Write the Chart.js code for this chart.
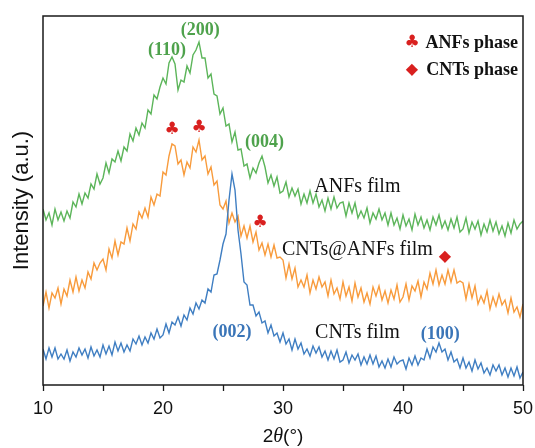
<!DOCTYPE html>
<html>
<head>
<meta charset="utf-8">
<title>XRD patterns</title>
<script src="https://cdn.jsdelivr.net/npm/chart.js@4.4.1/dist/chart.umd.min.js"></script>
<style>
    html, body { margin: 0; padding: 0; background: #ffffff; overflow: hidden; }
    #wrap { width: 535px; height: 448px; position: relative; }
    canvas { display: block; }
</style>
</head>
<body>
<div id="wrap"><canvas id="xrdChart"></canvas></div>
<script>
// 2θ sampling of the scans (degrees)
const angleStart = 10;
const angleStep = 0.25;

// ANFs film intensity (a.u.)
const anfsFilm = [
    176,165,172,160,176,165,173,164,174,167,183,178,191,181,192,187,201,196,211,201,
    207,222,212,226,223,234,224,238,234,251,244,257,250,262,257,275,271,290,286,298,
    307,301,322,328,321,295,305,303,319,312,330,335,343,327,327,307,311,291,289,271,
    277,259,261,243,253,235,236,219,221,207,217,212,222,229,218,202,210,199,208,192,
    194,203,188,197,189,196,181,191,182,194,182,191,178,185,174,187,176,188,177,182,
    183,169,182,172,182,167,174,167,177,162,172,166,176,165,172,160,172,160,167,156,
    170,159,166,155,171,160,168,157,165,155,168,160,170,157,164,155,166,157,168,153,
    156,167,152,163,156,164,150,161,153,165,154,163,151,159,149,162,152,165,156,161,
    164
];

// CNTs@ANFs film intensity (a.u.)
const cntsAnfsFilm = [
    79,93,77,92,87,97,81,96,89,105,93,108,94,105,97,113,106,122,115,122,
    126,115,136,127,144,130,143,141,157,144,161,156,173,167,177,168,188,180,191,189,
    213,210,229,241,239,221,225,210,223,217,238,233,245,225,229,211,218,200,204,180,
    176,184,162,172,163,169,149,159,147,159,143,153,135,142,130,141,128,140,127,128,
    125,107,121,106,117,98,105,98,110,92,105,96,108,98,103,89,105,91,97,86,
    103,89,98,84,102,88,97,83,92,81,98,89,99,85,94,82,95,86,100,83,
    88,101,85,99,94,104,88,103,96,112,101,115,100,110,101,115,103,115,102,104,
    102,86,101,87,99,81,89,82,94,76,88,79,91,80,85,72,87,73,78,68,
    81
];

// CNTs film intensity (a.u.)
const cntsFilm = [
    36,26,37,28,37,26,31,26,35,24,33,28,37,30,36,27,38,29,35,28,
    40,31,39,30,43,34,42,33,40,34,46,41,49,40,48,42,52,46,56,47,
    50,61,52,63,60,68,59,70,65,77,71,82,76,85,82,96,93,110,111,125,
    141,151,185,211,195,155,131,103,100,80,80,69,73,62,64,52,60,49,52,43,
    52,41,46,35,46,36,42,31,36,29,39,32,38,28,34,25,34,26,35,23,
    25,33,22,30,25,31,20,28,21,30,21,29,18,24,17,26,18,28,21,24,
    25,16,27,20,29,20,27,25,36,27,38,33,42,33,36,25,33,23,26,17,
    27,17,23,14,25,16,22,12,17,10,20,14,20,10,17,8,17,9,18,7,
    13
];

// x axis ticks, every 5 degrees with labels on the tens
const xTicks = [10, 15, 20, 25, 30, 35, 40, 45, 50];
const xTickLabels = ['10', '', '20', '', '30', '', '40', '', '50'];

const GREEN = '#5cb55a';
const ORANGE = '#f89b3c';
const BLUE = '#3f7ec2';
const RED = '#d9201f';

function toPoints(values) {
    return values.map((v, i) => ({ x: angleStart + i * angleStep, y: v }));
}

// Text and symbols placed on the plot (data coordinates)
const peakLabels = [
    { text: '(110)', x: 20.33, y: 335, color: '#4ea24c' },
    { text: '(200)', x: 23.1, y: 355, color: '#4ea24c' },
    { text: '(004)', x: 28.45, y: 243, color: '#4ea24c' },
    { text: '(002)', x: 25.75, y: 53, color: '#3a75b8' },
    { text: '(100)', x: 43.1, y: 51, color: '#3a75b8' }
];
const sampleLabels = [
    { text: 'ANFs film', x: 36.2, y: 198 },
    { text: 'CNTs@ANFs film', x: 36.2, y: 135 },
    { text: 'CNTs film', x: 36.2, y: 52 }
];
const phaseMarks = [
    { symbol: '♣', x: 20.75, y: 255 },
    { symbol: '♣', x: 23.0, y: 257 },
    { symbol: '♣', x: 28.1, y: 162 },
    { symbol: '◆', x: 43.5, y: 128 }
];

function symbolFont(symbol) {
    return (symbol === '♣' ? '17px' : '16px') + ' "DejaVu Sans", sans-serif';
}

const annotationPlugin = {
    id: 'xrdAnnotations',
    afterDraw(chart) {
        const { ctx, chartArea } = chart;
        const xs = chart.scales.x;
        const ys = chart.scales.y;
        ctx.save();

        // frame round the plot
        ctx.strokeStyle = '#1a1a1a';
        ctx.lineWidth = 1.5;
        ctx.strokeRect(chartArea.left, chartArea.top,
            chartArea.right - chartArea.left, chartArea.bottom - chartArea.top);

        ctx.textAlign = 'center';
        ctx.textBaseline = 'middle';

        ctx.font = 'bold 18px "Liberation Serif", "Times New Roman", serif';
        peakLabels.forEach(l => {
            ctx.fillStyle = l.color;
            ctx.fillText(l.text, xs.getPixelForValue(l.x), ys.getPixelForValue(l.y));
        });

        ctx.font = '20px "Liberation Serif", "Times New Roman", serif';
        ctx.fillStyle = '#111111';
        sampleLabels.forEach(l => {
            ctx.fillText(l.text, xs.getPixelForValue(l.x), ys.getPixelForValue(l.y));
        });

        ctx.fillStyle = RED;
        phaseMarks.forEach(m => {
            ctx.font = symbolFont(m.symbol);
            ctx.fillText(m.symbol, xs.getPixelForValue(m.x), ys.getPixelForValue(m.y));
        });

        // legend, top right
        const legendItems = [['♣', 'ANFs phase'], ['◆', 'CNTs phase']];
        legendItems.forEach((item, i) => {
            const y = chartArea.top + 27 + i * 27;
            ctx.textAlign = 'center';
            ctx.fillStyle = RED;
            ctx.font = symbolFont(item[0]);
            ctx.fillText(item[0], chartArea.right - 111, y);
            ctx.textAlign = 'right';
            ctx.fillStyle = '#111111';
            ctx.font = 'bold 18px "Liberation Serif", "Times New Roman", serif';
            ctx.fillText(item[1], chartArea.right - 5, y);
        });

        // x axis title: 2θ(°) with italic theta
        const parts = [
            ['2', '19px "Liberation Sans", Arial, sans-serif'],
            ['θ', 'italic 20px "Liberation Serif", "Times New Roman", serif'],
            ['(°)', '19px "Liberation Sans", Arial, sans-serif']
        ];
        let total = 0;
        parts.forEach(p => { ctx.font = p[1]; total += ctx.measureText(p[0]).width; });
        let x = (chartArea.left + chartArea.right) / 2 - total / 2;
        ctx.textAlign = 'left';
        ctx.fillStyle = '#111111';
        parts.forEach(p => {
            ctx.font = p[1];
            ctx.fillText(p[0], x, 437);
            x += ctx.measureText(p[0]).width;
        });

        ctx.restore();
    }
};

const lineStyle = { borderWidth: 1.4, pointRadius: 0, tension: 0, fill: false };

new Chart(document.getElementById('xrdChart'), {
    type: 'line',
    data: {
        datasets: [
            Object.assign({ label: 'CNTs film', data: toPoints(cntsFilm), borderColor: BLUE }, lineStyle),
            Object.assign({ label: 'CNTs@ANFs film', data: toPoints(cntsAnfsFilm), borderColor: ORANGE }, lineStyle),
            Object.assign({ label: 'ANFs film', data: toPoints(anfsFilm), borderColor: GREEN }, lineStyle)
        ]
    },
    options: {
        responsive: true,
        maintainAspectRatio: false,
        animation: false,
        layout: { padding: { top: 16, right: 12, bottom: 0, left: 0 } },
        plugins: {
            legend: { display: false },
            tooltip: { enabled: false }
        },
        scales: {
            x: {
                type: 'linear',
                min: 10,
                max: 50,
                afterBuildTicks(scale) {
                    scale.ticks = xTicks.map(v => ({ value: v }));
                },
                afterFit(scale) {
                    scale.height = 63;
                    // edge labels may overhang, keep the plot edges fixed
                    scale.paddingLeft = 0;
                    scale.paddingRight = 0;
                },
                ticks: {
                    autoSkip: false,
                    maxRotation: 0,
                    padding: 7,
                    color: '#111111',
                    font: { family: '"Liberation Sans", Arial, sans-serif', size: 18 },
                    callback: (v) => xTickLabels[xTicks.indexOf(v)]
                },
                grid: {
                    drawOnChartArea: false,
                    drawTicks: true,
                    tickLength: 6,
                    tickWidth: 1.3,
                    tickColor: '#1a1a1a'
                },
                border: { display: false }
            },
            y: {
                min: 0,
                max: 369,
                afterFit(scale) { scale.width = 43; },
                ticks: { display: false },
                grid: { display: false },
                border: { display: false },
                title: {
                    display: true,
                    text: 'Intensity (a.u.)',
                    color: '#111111',
                    padding: { top: 11, bottom: 0 },
                    font: { family: '"Liberation Sans", Arial, sans-serif', size: 22, lineHeight: 1 }
                }
            }
        }
    },
    plugins: [annotationPlugin]
});
</script>
</body>
</html>
